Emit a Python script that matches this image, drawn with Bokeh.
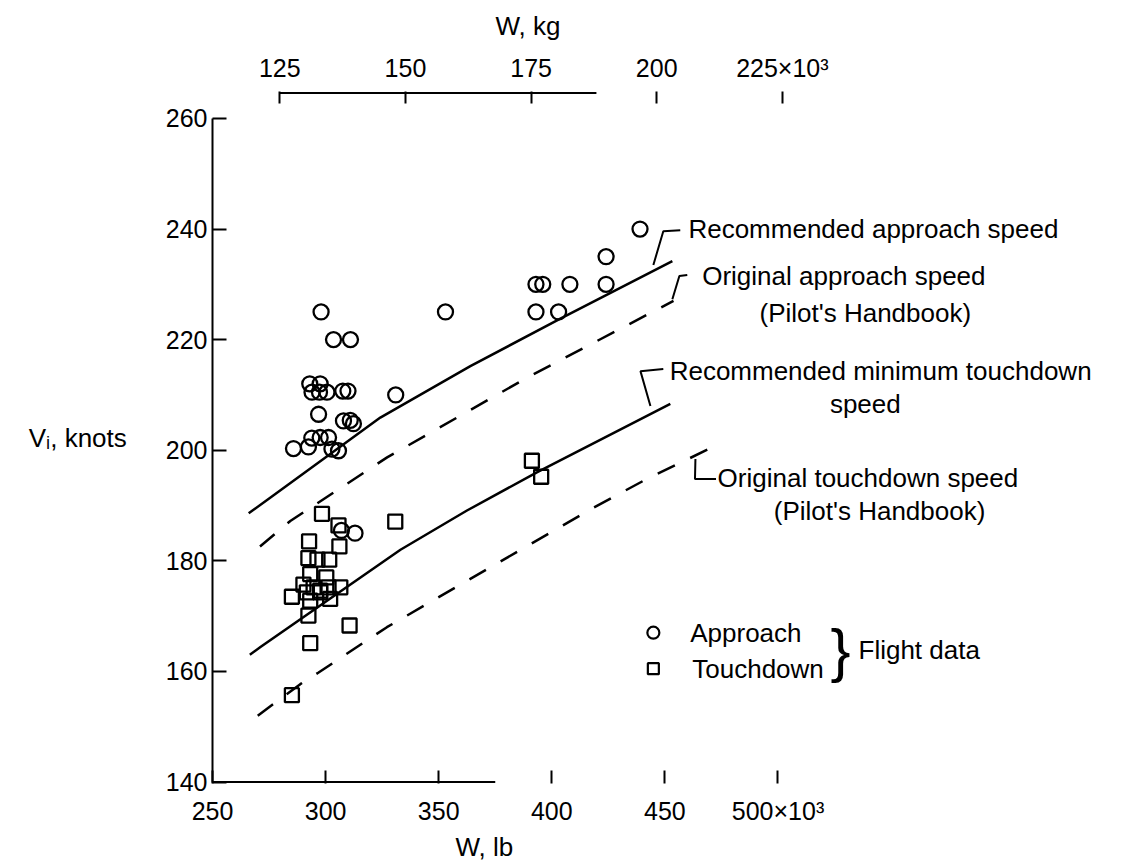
from bokeh.plotting import figure
from bokeh.models import Range1d, LinearAxis, FixedTicker, ColumnDataSource, Title
from bokeh.embed import file_html
from bokeh.resources import INLINE
from bokeh.core.properties import value

# ---------------- data ----------------
# flight data, approach (circles): weight (10^3 lb), indicated speed (knots)
approach_w = [439, 424, 424, 408, 393, 396, 353, 393, 403, 331,
              303.5, 311, 298, 293, 297.6, 294, 297.3, 300.6, 307.6, 309.9,
              296.9, 307.9, 310.9, 312.3, 293.9, 297.6, 301.3, 285.8, 292.4,
              302.8, 305.7, 307, 313]
approach_v = [240, 235, 230, 230, 230, 230, 225, 225, 225, 210,
              220, 220, 225, 212, 212, 210.5, 210.5, 210.5, 210.7, 210.7,
              206.5, 205.3, 205.4, 204.8, 202.2, 202.3, 202.3, 200.3, 200.6,
              200.2, 199.9, 185.5, 185]

# flight data, touchdown (squares)
touchdown_w = [298.4, 305.7, 292.7, 306.1, 292.4, 296.4, 301.6, 293.2, 300.3,
               290.2, 294.7, 297.6, 301.3, 306.5, 285.1, 291.7, 293.2, 297.6,
               302.0, 292.4, 310.6, 293.2, 285.1, 330.8, 391.2, 395.3]
touchdown_v = [188.5, 186.4, 183.5, 182.6, 180.5, 180.2, 180.2, 177.6, 177.0,
               175.7, 175.2, 174.6, 175.2, 175.2, 173.5, 174.3, 172.8, 174.3,
               173.1, 170.1, 168.3, 165.1, 155.7, 187.1, 198.1, 195.2]

# speed schedules
rec_app_w = [266, 275.5, 324.2, 364, 403.8, 453.3]
rec_app_v = [188.6, 191.4, 205.9, 215.2, 223.8, 234.2]
orig_app_w = [271, 284.4, 320.5, 327.2, 389, 453.8]
orig_app_v = [182.6, 187.2, 196.9, 198.7, 213.1, 227.0]
rec_td_w = [266.5, 271.2, 333.1, 362.5, 393.4, 452.4]
rec_td_v = [163.0, 164.4, 182.0, 189.1, 196.0, 208.4]
orig_td_w = [270, 288.8, 296.9, 327.1, 418.4, 442.0, 469.3]
orig_td_v = [152.0, 157.7, 159.8, 168.0, 189.6, 194.8, 200.2]

# axes
lb_ticks = [250, 300, 350, 400, 450, 500]
kg_ticks = [125, 150, 175, 200, 225]
v_ticks = [140, 160, 180, 200, 220, 240, 260]
lb_axis_line = (250, 375)      # drawn extent of the lower axis line
kg_axis_line = (125, 188)      # drawn extent of the upper axis line
lb_title = "W, lb"
kg_title = "W, kg"
v_title = "Vᵢ, knots"

# annotations (label text, anchor W, anchor V, alignment)
ann_text = ["Recommended approach speed", "Original approach speed",
            "(Pilot's Handbook)", "Recommended minimum touchdown", "speed",
            "Original touchdown speed", "(Pilot's Handbook)",
            "Approach", "Touchdown", "Flight data"]
ann_w = [460.4, 466.5, 538.6, 452.1, 538.6, 473.3, 544.9, 461.2, 462.1, 535.6]
ann_v = [240.0, 231.5, 224.8, 214.3, 208.4, 195.0, 189.0, 167.0, 160.5, 163.8]
ann_align = ["left", "left", "center", "left", "center", "left", "center",
             "left", "left", "left"]

leader_w = [[444.9, 449.3, 456.8], [453.3, 456.4, 459.9],
            [443.6, 439.2, 449.3], [463.5, 463.3, 472.6]]
leader_v = [[233.5, 239.6, 239.8], [227.3, 231.5, 231.7],
            [208.0, 214.3, 214.7], [198.4, 194.8, 194.8]]

key_w = [444.9]
key_circle_v = [167.0]
key_square_v = [160.5]
brace_w = [527.6]
brace_v = [163.8]

FONT = "Liberation Sans"

# ---------------- figure ----------------
FRAME_H = 693
p = figure(width=1124, height=865, output_backend="svg", toolbar_location=None,
           title_location=None,
           x_range=Range1d(250, 647), y_range=Range1d(139.73, 264.87),
           min_border_left=212, min_border_right=14,
           min_border_top=90, min_border_bottom=82)
p.outline_line_color = None
p.background_fill_color = "white"
p.border_fill_color = "white"
p.xgrid.visible = False
p.ygrid.visible = False
p.extra_x_ranges = {"kg": Range1d(111.6, 290.3)}

def style_axis(ax, tick_in, standoff, lab_standoff):
    ax.major_tick_in = tick_in
    ax.major_tick_out = 0
    ax.minor_tick_line_color = None
    ax.major_tick_line_width = 2
    ax.major_tick_line_color = "black"
    ax.axis_line_width = 2
    ax.axis_line_color = "black"
    ax.major_label_text_font = FONT
    ax.major_label_text_font_size = "25px"
    ax.major_label_text_color = "black"
    ax.major_label_standoff = standoff
    ax.axis_label_text_font = FONT
    ax.axis_label_text_font_size = "26px"
    ax.axis_label_text_font_style = "normal"
    ax.axis_label_text_color = "black"
    ax.axis_label_standoff = lab_standoff

# bottom axis (lb)
xa = p.xaxis[0]
xa.ticker = FixedTicker(ticks=lb_ticks)
xa.major_label_overrides = {500: "500×10³"}
style_axis(xa, 13, 13, 4)
xa.axis_line_color = None

# left axis (knots)
ya = p.yaxis[0]
ya.ticker = FixedTicker(ticks=v_ticks)
ya.bounds = (v_ticks[0], v_ticks[-1])
ya.axis_label = v_title
style_axis(ya, 14, 5, 36)
ya.major_label_orientation = "horizontal"
try:
    ya.axis_label_orientation = "horizontal"
except AttributeError:
    pass

# top axis (kg)
ta = LinearAxis(x_range_name="kg", ticker=FixedTicker(ticks=kg_ticks))
ta.major_label_overrides = {225: "225×10³"}
style_axis(ta, 12, 10, 10)
ta.axis_line_color = None
p.add_layout(ta, "above")

# titles of the two weight scales, set outside their axes
p.add_layout(Title(text=lb_title, align="left", offset=243, standoff=6,
                   vertical_align="middle", text_font=FONT,
                   text_font_size="26px", text_font_style="normal",
                   text_color="black"), "below")
p.add_layout(Title(text=kg_title, align="left", offset=283, standoff=18,
                   vertical_align="middle", text_font=FONT,
                   text_font_size="26px", text_font_style="normal",
                   text_color="black"), "above")

# partial axis lines, just inside the frame edges
px_per_knot = FRAME_H / (p.y_range.end - p.y_range.start)
y_bottom_line = v_ticks[0]
y_top_line = p.y_range.end - 1.5 / px_per_knot
p.segment(x0=[lb_axis_line[0]], y0=[y_bottom_line], x1=[lb_axis_line[1]],
          y1=[y_bottom_line], line_color="black", line_width=2)
p.segment(x0=[kg_axis_line[0]], y0=[y_top_line], x1=[kg_axis_line[1]],
          y1=[y_top_line], line_color="black", line_width=2, x_range_name="kg")

# schedules
p.line(rec_app_w, rec_app_v, line_color="black", line_width=2.5,
       line_join="round")
p.line(orig_app_w, orig_app_v, line_color="black", line_width=2.5,
       line_dash="19 17")
p.line(rec_td_w, rec_td_v, line_color="black", line_width=2.5,
       line_join="round")
p.line(orig_td_w, orig_td_v, line_color="black", line_width=2.5,
       line_dash="19 17")

# flight data
p.scatter(approach_w, approach_v, marker="circle", size=15, fill_color=None,
          line_color="black", line_width=2.3)
p.scatter(touchdown_w, touchdown_v, marker="square", size=14, fill_color=None,
          line_color="black", line_width=2.3)

# key markers
p.scatter(key_w, key_circle_v, marker="circle", size=12, fill_color=None,
          line_color="black", line_width=2.2)
p.scatter(key_w, key_square_v, marker="square", size=11, fill_color=None,
          line_color="black", line_width=2.2)

# leader lines
p.multi_line(leader_w, leader_v, line_color="black", line_width=2)

# annotation text
src = ColumnDataSource(dict(x=ann_w, y=ann_v, text=ann_text, align=ann_align))
p.text(x="x", y="y", text="text", source=src, text_align="align",
       text_baseline="middle", text_font=value(FONT), text_font_size="26px",
       text_color="black")
p.text(x=brace_w, y=brace_v, text=["}"], text_align="center",
       text_baseline="middle", text_font=value(FONT), text_font_size="60px",
       text_color="black")

open("out.html", "w").write(file_html(p, INLINE))
